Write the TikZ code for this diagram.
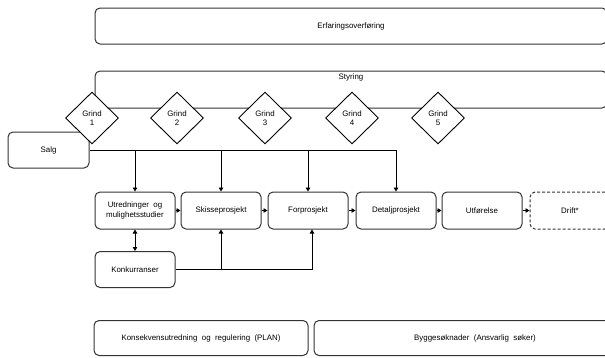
\documentclass[tikz,border=0pt]{standalone}
\usepackage{fontspec}
\setmainfont{Liberation Sans}
\usetikzlibrary{shapes.geometric,arrows.meta}
\definecolor{boxgray}{HTML}{333333}
\begin{document}
\begin{tikzpicture}[x=1pt,y=-1pt,
  txt/.style={font=\fontsize{7.9}{9.6}\selectfont},
  box/.style={txt, draw=boxgray, line width=1pt, rounded corners=5pt, fill=white, inner sep=2pt, align=center},
  gate/.style={txt, diamond, draw=black, line width=0.9pt, fill=white, minimum width=53pt, minimum height=52pt, inner sep=0pt, align=center},
  conn/.style={draw=black, line width=0.8pt},
  arr/.style={conn, -{Triangle[length=4pt,width=4.5pt]}},
  darr/.style={conn, {Triangle[length=4pt,width=4.5pt]}-{Triangle[length=4pt,width=4.5pt]}}
]
\useasboundingbox (0,0) rectangle (605,357);
\clip (0,0) rectangle (605,357);

% top bands
\node[box, minimum width=512pt, minimum height=36pt] (erf) at (351,26) {Erfaringsoverføring};
\node[box, minimum width=512pt, minimum height=37pt,
      label={[txt, anchor=north, inner sep=3pt]north:Styring}] (sty) at (351,89.5) {};

% sales
\node[box, minimum width=81pt, minimum height=36pt] (salg) at (48.5,150) {Salg};

% process row
\node[box, minimum width=80pt, minimum height=37pt] (utr) at (135,210.5) {Utredninger\ \ og\\mulighetsstudier};
\node[box, minimum width=80pt, minimum height=37pt] (skisse) at (221,210.5) {Skisseprosjekt};
\node[box, minimum width=80pt, minimum height=37pt] (forp) at (308,210.5) {Forprosjekt};
\node[box, minimum width=80pt, minimum height=37pt] (detalj) at (396,210.5) {Detaljprosjekt};
\node[box, minimum width=80pt, minimum height=37pt] (utf) at (482,210.5) {Utførelse};
\node[box, dash pattern=on 3pt off 2pt, minimum width=80pt, minimum height=37pt] (drift) at (570,210.5) {Drift*};

\node[box, minimum width=80pt, minimum height=36pt] (konk) at (135,269.5) {Konkurranser};

% bottom bands
\node[box, minimum width=214pt, minimum height=35pt] (kons) at (201,338) {Konsekvensutredning\ \ og\ \ regulering\ \ (PLAN)};
\node[box, minimum width=322pt, minimum height=35pt] (bygg) at (475,338) {Byggesøknader\ \ (Ansvarlig\ \ søker)};

% connectors from sales
\draw[arr] (salg.east) -| (detalj.north);
\draw[arr] (salg.east -| utr.north) -- (utr.north);
\draw[arr] (salg.east -| skisse.north) -- (skisse.north);
\draw[arr] (salg.east -| forp.north) -- (forp.north);

% process arrows
\draw[arr] (utr) -- (skisse);
\draw[arr] (skisse) -- (forp);
\draw[arr] (forp) -- (detalj);
\draw[arr] (detalj) -- (utf);
\draw[arr] (utf) -- (drift);

% competitions
\draw[darr] (utr.south) -- (konk.north);
\coordinate (fpin) at ([xshift=4pt]forp.south);
\draw[arr] (konk.east) -| (fpin);
\draw[arr] (konk.east -| skisse.south) -- (skisse.south);

% gates
\node[gate] (g1) at (92,118) {Grind\\1};
\node[gate] (g2) at (177,118) {Grind\\2};
\node[gate] (g3) at (265,118) {Grind\\3};
\node[gate] (g4) at (352,118) {Grind\\4};
\node[gate] (g5) at (438,118) {Grind\\5};
\end{tikzpicture}
\end{document}
